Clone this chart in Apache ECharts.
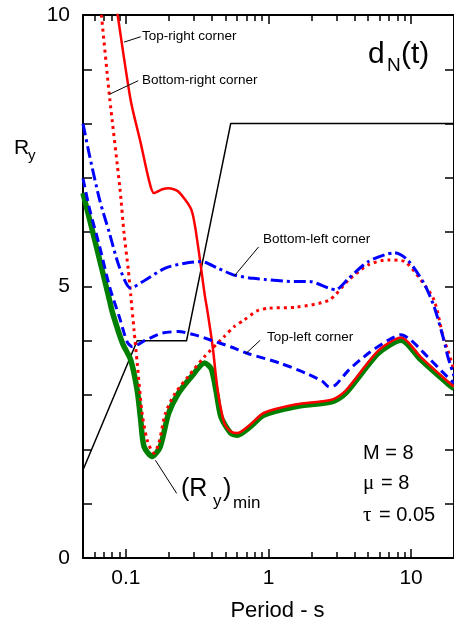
<!DOCTYPE html>
<html><head><meta charset="utf-8">
<script src="https://cdn.jsdelivr.net/npm/echarts@6/dist/echarts.min.js"></script>
<style>html,body{margin:0;padding:0;background:#fff}#c{width:454px;height:626px}</style>
</head><body><div id="c"></div><script>
// ---- data (period T in s, Ry) ----
const periodMajorTicks = [0.1, 1, 10];
const periodMinorTicks = [0.06,0.07,0.08,0.09,0.2,0.3,0.4,0.5,0.6,0.7,0.8,0.9,2,3,4,5,6,7,8,9];
const ryTicks = [0,1,2,3,4,5,6,7,8,9,10];
const ryLabels = [0, 5, 10];

const elasticShape = [[0.05,1.62],[0.12,4.0],[0.266,4.0],[0.543,8.0],[20,8.0]];

const ryMin = [[0.05,6.72],[0.062,5.74],[0.0767,4.75],[0.0809,4.5],[0.0948,3.95],[0.108,3.65],[0.12,3.09],
  [0.127,2.54],[0.134,2.05],[0.153,1.87],[0.174,2.05],[0.199,2.66],[0.233,3.03],[0.288,3.34],[0.356,3.59],
  [0.396,3.49],[0.428,3.09],[0.464,2.60],[0.543,2.30],[0.604,2.26],[0.747,2.42],[0.924,2.63],[1.57,2.79],
  [2.81,2.88],[3.47,3.03],[5.89,3.77],[8.53,4.01],[11.7,3.65],[17.9,3.22],[20,3.12]];

const topRight = [[0.08,10.7],[0.0875,10.0],[0.108,8.43],[0.127,7.64],[0.145,6.96],[0.157,6.72],[0.18,6.79],
  [0.199,6.81],[0.233,6.75],[0.288,6.41],[0.321,5.73],[0.356,4.87],[0.375,4.51],[0.406,3.89],[0.44,3.09],
  [0.49,2.48],[0.543,2.33],[0.604,2.30],[0.747,2.46],[0.924,2.67],[1.57,2.83],[2.81,2.92],[3.47,3.08],
  [5.89,3.82],[8.53,4.06],[11.7,3.70],[17.9,3.26],[20,3.16]];

const bottomRight = [[0.062,10.9],[0.0673,10.0],[0.0767,8.5],[0.091,6.78],[0.097,5.98],[0.104,5.3],[0.108,4.85],
  [0.114,4.2],[0.12,3.59],[0.13,2.66],[0.141,2.17],[0.157,1.93],[0.17,2.11],[0.189,2.66],[0.221,3.03],
  [0.273,3.34],[0.356,3.71],[0.49,4.08],[0.574,4.26],[0.673,4.38],[0.83,4.55],[1.0,4.6],[1.57,4.62],
  [2.66,4.75],[3.65,5.12],[5.02,5.40],[6.9,5.49],[9.0,5.46],[11.7,5.12],[14.5,4.75],[17,4.01],[18.1,3.83],[20,3.45]];

const bottomLeft = [[0.05,8.0],[0.0558,7.39],[0.0655,6.59],[0.0767,5.98],[0.0899,5.36],[0.108,4.97],[0.137,5.12],
  [0.189,5.34],[0.26,5.43],[0.337,5.46],[0.44,5.34],[0.574,5.21],[0.788,5.15],[1.57,5.09],[1.94,5.09],
  [2.66,4.97],[2.96,4.94],[3.65,5.15],[5.02,5.46],[7.67,5.62],[9.45,5.49],[12.3,5.06],[14.5,4.63],[17,4.01],
  [18.1,3.71],[20,3.35]];

const topLeft = [[0.05,6.99],[0.0558,6.41],[0.0655,5.73],[0.0767,5.0],[0.0899,4.44],[0.102,3.98],[0.111,3.89],
  [0.137,4.01],[0.179,4.14],[0.233,4.17],[0.304,4.11],[0.396,4.01],[0.543,3.89],[0.708,3.77],[1.2,3.59],
  [1.84,3.40],[2.4,3.25],[2.66,3.15],[2.96,3.19],[3.65,3.46],[5.02,3.77],[6.9,4.01],[8.5,4.11],[10,4.01],
  [13,3.71],[17.9,3.34],[20,3.22]];

// leader lines for annotations, in data coordinates [T, Ry]
const leaderLines = [
  [[0.097,9.5],[0.127,9.6]],
  [[0.0767,8.54],[0.122,8.79]],
  [[0.574,5.19],[0.853,5.73]],
  [[0.69,3.76],[0.875,4.01]],
  [[0.161,1.80],[0.227,1.19]]
];

const FONT = "'Liberation Sans', Arial, Helvetica, sans-serif";
const chart = echarts.init(document.getElementById('c'), null, {renderer:'canvas'});

function xAx(pos, ticks, len, showLine, showLabel) {
  return {
    type:'log', min:0.05, max:20, position:pos, gridIndex:0,
    axisLine:{show:showLine, onZero:false, lineStyle:{color:'#000', width:2}},
    axisTick:{show:true, inside:true, length:len, customValues:ticks, lineStyle:{color:'#000', width:1.5}},
    axisLabel:{show:showLabel, customValues:periodMajorTicks, margin:10, fontSize:21, color:'#000', fontFamily:FONT,
      formatter:v => String(+(+v).toPrecision(3))},
    splitLine:{show:false}, minorTick:{show:false}
  };
}
function yAx(pos, showLabel) {
  return {
    type:'value', min:0, max:10, interval:1, position:pos, gridIndex:0,
    axisLine:{show:true, onZero:false, lineStyle:{color:'#000', width:2}},
    axisTick:{show:true, inside:true, length:9, customValues:ryTicks, lineStyle:{color:'#000', width:1.5}},
    axisLabel:{show:showLabel, customValues:ryLabels, margin:13, fontSize:21, color:'#000', fontFamily:FONT},
    splitLine:{show:false}
  };
}
function ser(name, data, color, width, type, smooth) {
  return {name, type:'line', data, xAxisIndex:0, yAxisIndex:0, symbol:'none', showSymbol:false,
    smooth:smooth, clip:true, silent:true,
    lineStyle:{color, width, type, cap:'butt', join:'round'}};
}

chart.setOption({
  animation:false,
  backgroundColor:'#fff',
  grid:{left:83, top:15, width:377, height:543, containLabel:false},
  xAxis:[xAx('bottom', periodMajorTicks, 9, true, true), xAx('bottom', periodMinorTicks, 6, false, false),
         xAx('top', periodMajorTicks, 9, true, false), xAx('top', periodMinorTicks, 6, false, false)],
  yAxis:[yAx('left', true), yAx('right', false)],
  series:[
    ser('elastic', elasticShape, '#000', 1.5, 'solid', false),
    ser('(Ry)min', ryMin, '#008000', 5.5, 'solid', 0.25),
    ser('Top-right corner', topRight, '#ff0000', 2.5, 'solid', 0.25),
    ser('Bottom-right corner', bottomRight, '#ff0000', 3, [3,4], 0.25),
    ser('Top-left corner', topLeft, '#0000ff', 3, [9,5], 0.25),
    ser('Bottom-left corner', bottomLeft, '#0000ff', 3, [12,4,3,4], 0.25)
  ]
});

function px(p){ return chart.convertToPixel({gridIndex:0}, p); }
function txt(text, x, y, size, opts) {
  return Object.assign({type:'text', x, y, silent:true, z:100,
    style:Object.assign({text, fill:'#000', font: size + 'px ' + FONT, align:'left', verticalAlign:'middle'}, opts||{})});
}
const g = [];
leaderLines.forEach(l => {
  const a = px(l[0]), b = px(l[1]);
  g.push({type:'line', silent:true, z:90, shape:{x1:a[0], y1:a[1], x2:b[0], y2:b[1]}, style:{stroke:'#000', lineWidth:1}});
});
g.push(txt('Top-right corner', 142, 36, 13.5));
g.push(txt('Bottom-right corner', 142, 80, 13.5));
g.push(txt('Bottom-left corner', 263, 239, 13.5));
g.push(txt('Top-left corner', 267, 337, 13.5));
// (Ry)min
g.push(txt('(R', 181, 489, 25));
g.push(txt('y', 213, 501, 17));
g.push(txt(')', 223, 489, 25));
g.push(txt('min', 233, 503, 17));
// Ry axis title
g.push(txt('R', 14, 148, 21));
g.push(txt('y', 28, 156, 15));
// dN(t)
g.push(txt('d', 368, 54.5, 30));
g.push(txt('N', 387, 66, 19));
g.push(txt('(t)', 401, 54.5, 30));
// parameters
g.push(txt('M = 8', 363, 453, 20));
g.push(txt('μ', 363, 483, 21, {font: "21px 'Liberation Serif', 'Times New Roman', serif"}));
g.push(txt('= 8', 381, 483, 20));
g.push(txt('τ', 363, 515, 21, {font: "21px 'Liberation Serif', 'Times New Roman', serif"}));
g.push(txt('= 0.05', 379, 515, 20));
// x axis title
g.push(txt('Period - s', 277.5, 611, 22, {align:'center'}));
chart.setOption({graphic:g});
</script></body></html>
